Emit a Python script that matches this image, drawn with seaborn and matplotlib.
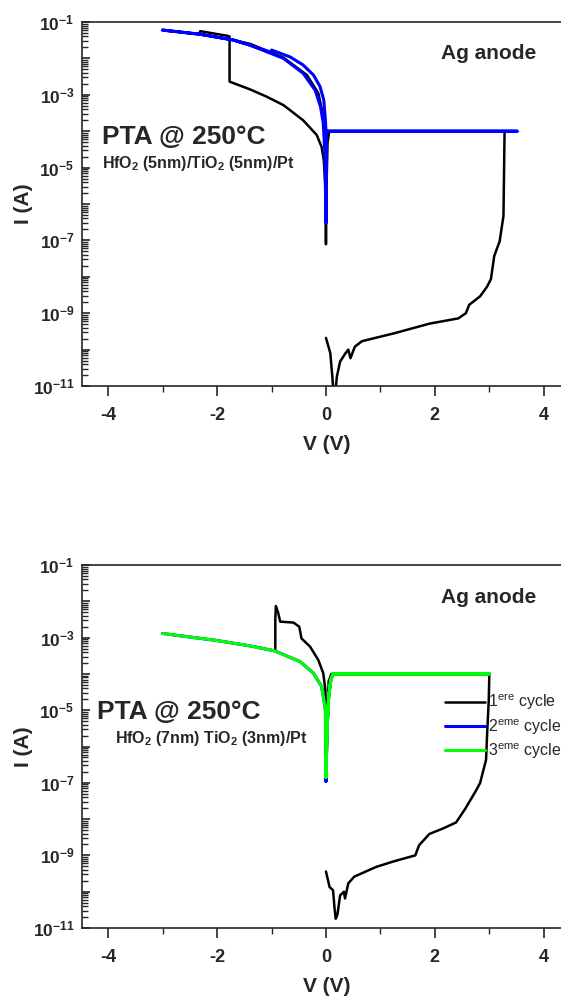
import math
import pandas as pd
import seaborn as sns
import matplotlib.pyplot as plt
from matplotlib.ticker import FixedLocator, FuncFormatter, LogLocator, MultipleLocator, NullFormatter

# --- top panel: HfO2 (5nm)/TiO2 (5nm)/Pt ---
top_c1_v = [0.00, 0.08, 0.12, 0.14, 0.17, 0.20, 0.26, 0.36, 0.41, 0.45, 0.53, 0.66, 1.25, 1.91,
            2.43, 2.57, 2.63, 2.83, 2.96, 3.03, 3.09, 3.19, 3.26, 3.28,
            0.06, 0.03, 0.01, 0.00, -0.01, -0.04, -0.08, -0.17, -0.42, -0.78, -1.09, -1.39, -1.77,
            -1.77, -1.82, -2.31, -2.32, -2.31, -1.70, -1.39, -0.78, -0.35, -0.14, -0.06, -0.02, 0.00]
top_c1_i = [2.1e-10, 8e-11, 1.6e-11, 6e-12, 6e-12, 1.8e-11, 4.7e-11, 8e-11, 1e-10, 5.8e-11, 1.2e-10, 1.7e-10, 2.8e-10, 5.2e-10,
            7.2e-10, 1e-9, 1.7e-9, 2.9e-9, 5.4e-9, 8.7e-9, 3.7e-8, 9.5e-8, 4.7e-7, 1e-4,
            1e-4, 5e-5, 3e-6, 7.8e-8, 3e-6, 1.6e-5, 3.7e-5, 7.9e-5, 2e-4, 5.2e-4, 8.9e-4, 1.4e-3, 2.3e-3,
            4e-2, 4.2e-2, 5.6e-2, 4.9e-2, 4.6e-2, 3.2e-2, 2.5e-2, 1.05e-2, 3.5e-3, 1.1e-3, 3.1e-4, 8.9e-5, 1e-5]

top_c2_v = [0.00, 0.01, 3.51, 0.01, 0.00, -0.02, -0.05, -0.10, -0.20, -0.42, -0.78, -1.39, -1.70, -2.31, -3.00,
            -2.31, -1.70, -1.39, -1.00, -1.00, -0.66, -0.42, -0.23, -0.11, -0.04, -0.01, 0.00]
top_c2_i = [3e-7, 1e-4, 1e-4, 1e-4, 3e-7, 2.5e-5, 1.7e-4, 4.7e-4, 1.35e-3, 3.9e-3, 1e-2, 2.3e-2, 3.2e-2, 4.6e-2, 6e-2,
            4.6e-2, 3.2e-2, 2.3e-2, 1.45e-2, 1.7e-2, 1.1e-2, 6.6e-3, 3.5e-3, 1.7e-3, 7.2e-4, 2e-4, 1e-4]

# --- bottom panel: HfO2 (7nm) TiO2 (3nm)/Pt ---
bot_c1_v = [0.00, 0.066, 0.13, 0.16, 0.18, 0.21, 0.26, 0.33, 0.35, 0.41, 0.52, 0.92, 1.25, 1.64, 1.71, 1.90,
            2.16, 2.39, 2.56, 2.75, 2.83, 2.94, 2.96, 2.99, 3.00,
            0.10, 0.05, 0.02, 0.00, -0.01, -0.05, -0.14, -0.29, -0.45, -0.49, -0.60, -0.84, -0.88, -0.92,
            -0.93, -0.93]
bot_c1_i = [3.6e-10, 1.35e-10, 1.1e-10, 3.2e-11, 1.8e-11, 2.3e-11, 7.9e-11, 1e-10, 6.5e-11, 1.7e-10, 2.6e-10, 4.8e-10,
            6.9e-10, 1e-9, 1.9e-9, 3.9e-9, 5.6e-9, 8.1e-9, 1.95e-8, 5.9e-8, 9.8e-8, 4.3e-7, 2.3e-6, 1.9e-5, 1e-4,
            1e-4, 6.3e-5, 3e-6, 5e-7, 3.6e-5, 1.05e-4, 2.4e-4, 5.6e-4, 9.5e-4, 2e-3, 2.6e-3, 2.75e-3, 5e-3, 7.4e-3,
            3.2e-3, 4.3e-4]

bot_c2_v = [0.00, 0.02, 0.05, 0.09, 0.13, 3.00, 0.13, 0.09, 0.05, 0.02, 0.00, -0.01, -0.03, -0.08, -0.23,
            -0.48, -0.94, -1.39, -2.00, -3.00]
bot_c2_i = [1.1e-7, 3e-6, 2.5e-5, 7e-5, 1e-4, 1e-4, 1e-4, 7e-5, 2.5e-5, 3e-6, 1.1e-7, 1e-5, 1.6e-5, 4.5e-5, 1.05e-4,
            2.2e-4, 4.3e-4, 5.9e-4, 8.3e-4, 1.3e-3]

bot_c3_v = [0.00, 0.02, 0.05, 0.09, 0.13, 3.00, 0.13, 0.09, 0.05, 0.02, 0.00, -0.01, -0.03, -0.08, -0.23,
            -0.48, -0.94, -1.39, -2.00, -3.00]
bot_c3_i = [1.4e-7, 3e-6, 2.5e-5, 7e-5, 1e-4, 1e-4, 1e-4, 7e-5, 2.5e-5, 3e-6, 1.4e-7, 1e-5, 1.6e-5, 4.5e-5, 1.05e-4,
            2.2e-4, 4.3e-4, 5.9e-4, 8.3e-4, 1.3e-3]

cycle_labels = [r"1$^{ere}$ cycle", r"2$^{eme}$ cycle", r"3$^{eme}$ cycle"]
cycle_colors = ["black", "#0000ff", "#00ff00"]

sns.set_theme(style="ticks")
plt.rcParams['font.family'] = ['Liberation Sans', 'DejaVu Sans']
plt.rcParams['font.weight'] = 'bold'
plt.rcParams['mathtext.default'] = 'regular'
plt.rcParams['axes.linewidth'] = 1.2

fig = plt.figure(figsize=(5.61, 10.01), dpi=100)
ax1 = fig.add_axes([82/561, 1-386/1001, 489/561, 364/1001])
ax2 = fig.add_axes([82/561, 1-928/1001, 489/561, 363/1001])


def curve(ax, v, i, color, lw, label=None):
    df = pd.DataFrame({"V": v, "I": i})
    sns.lineplot(data=df, x="V", y="I", sort=False, estimator=None, color=color,
                 linewidth=lw, ax=ax, label=label, legend=False)


curve(ax1, top_c1_v, top_c1_i, cycle_colors[0], 1.8)
curve(ax1, top_c2_v, top_c2_i, cycle_colors[1], 2.2)

curve(ax2, bot_c1_v, bot_c1_i, cycle_colors[0], 1.8, cycle_labels[0])
curve(ax2, bot_c2_v, bot_c2_i, cycle_colors[1], 2.2, cycle_labels[1])
curve(ax2, bot_c3_v, bot_c3_i, cycle_colors[2], 2.2, cycle_labels[2])


def exp_fmt(val, pos):
    e = int(round(math.log10(val)))
    return r"$10^{%d}$" % e if e % 2 != 0 else ""


for ax in (ax1, ax2):
    ax.set_yscale('log')
    ax.set_xlim(-4.48, 4.5)
    ax.set_ylim(1e-11, 1e-1)
    ax.yaxis.set_major_locator(FixedLocator([10.0**k for k in range(-11, 0)]))
    ax.yaxis.set_major_formatter(FuncFormatter(exp_fmt))
    ax.yaxis.set_minor_locator(LogLocator(base=10, subs=range(2, 10), numticks=30))
    ax.yaxis.set_minor_formatter(NullFormatter())
    ax.xaxis.set_major_locator(MultipleLocator(2))
    ax.xaxis.set_minor_locator(MultipleLocator(1))
    ax.xaxis.set_major_formatter(FuncFormatter(lambda x, p: "%d" % x))
    ax.tick_params(axis='y', which='major', direction='in', length=6, width=1.2, labelsize=12.5, pad=5.5)
    ax.tick_params(axis='y', which='minor', direction='in', length=4, width=1)
    ax.tick_params(axis='x', which='major', direction='out', length=7, width=1.2, labelsize=13, pad=8)
    ax.tick_params(axis='x', which='minor', direction='out', length=4, width=1)
    ax.set_xlabel("V (V)", fontsize=15, fontweight='bold')
    ax.set_ylabel("I (A)", fontsize=15, fontweight='bold')
    ax.xaxis.set_label_coords(0.5, -0.135)
    ax.yaxis.set_label_coords(-0.1, 0.5)
    for s in ax.spines.values():
        s.set_visible(True)
        s.set_linewidth(1.2)

ax1.text(-4.12, 4.5e-5, "PTA @ 250°C", fontsize=19, fontweight='bold', va='baseline')
ax1.text(-4.12, 1e-5, r"HfO$_2$ (5nm)/TiO$_2$ (5nm)/Pt", fontsize=11.5, fontweight='bold', va='baseline')
ax1.text(2.12, 9.5e-3, "Ag anode", fontsize=15, fontweight='bold', va='baseline')

ax2.text(-4.21, 5.7e-6, "PTA @ 250°C", fontsize=19, fontweight='bold', va='baseline')
ax2.text(-3.88, 1.23e-6, r"HfO$_2$ (7nm) TiO$_2$ (3nm)/Pt", fontsize=11.5, fontweight='bold', va='baseline')
ax2.text(2.12, 8.7e-3, "Ag anode", fontsize=15, fontweight='bold', va='baseline')

ax2.legend(loc='upper left', bbox_to_anchor=(445/561, 1-692/1001), bbox_transform=fig.transFigure,
           frameon=False, prop={'weight': 'normal', 'size': 11.5}, handlelength=2.5,
           handletextpad=0.2, labelspacing=0.3, borderpad=0, borderaxespad=0)

plt.savefig("out.png", dpi=100)
